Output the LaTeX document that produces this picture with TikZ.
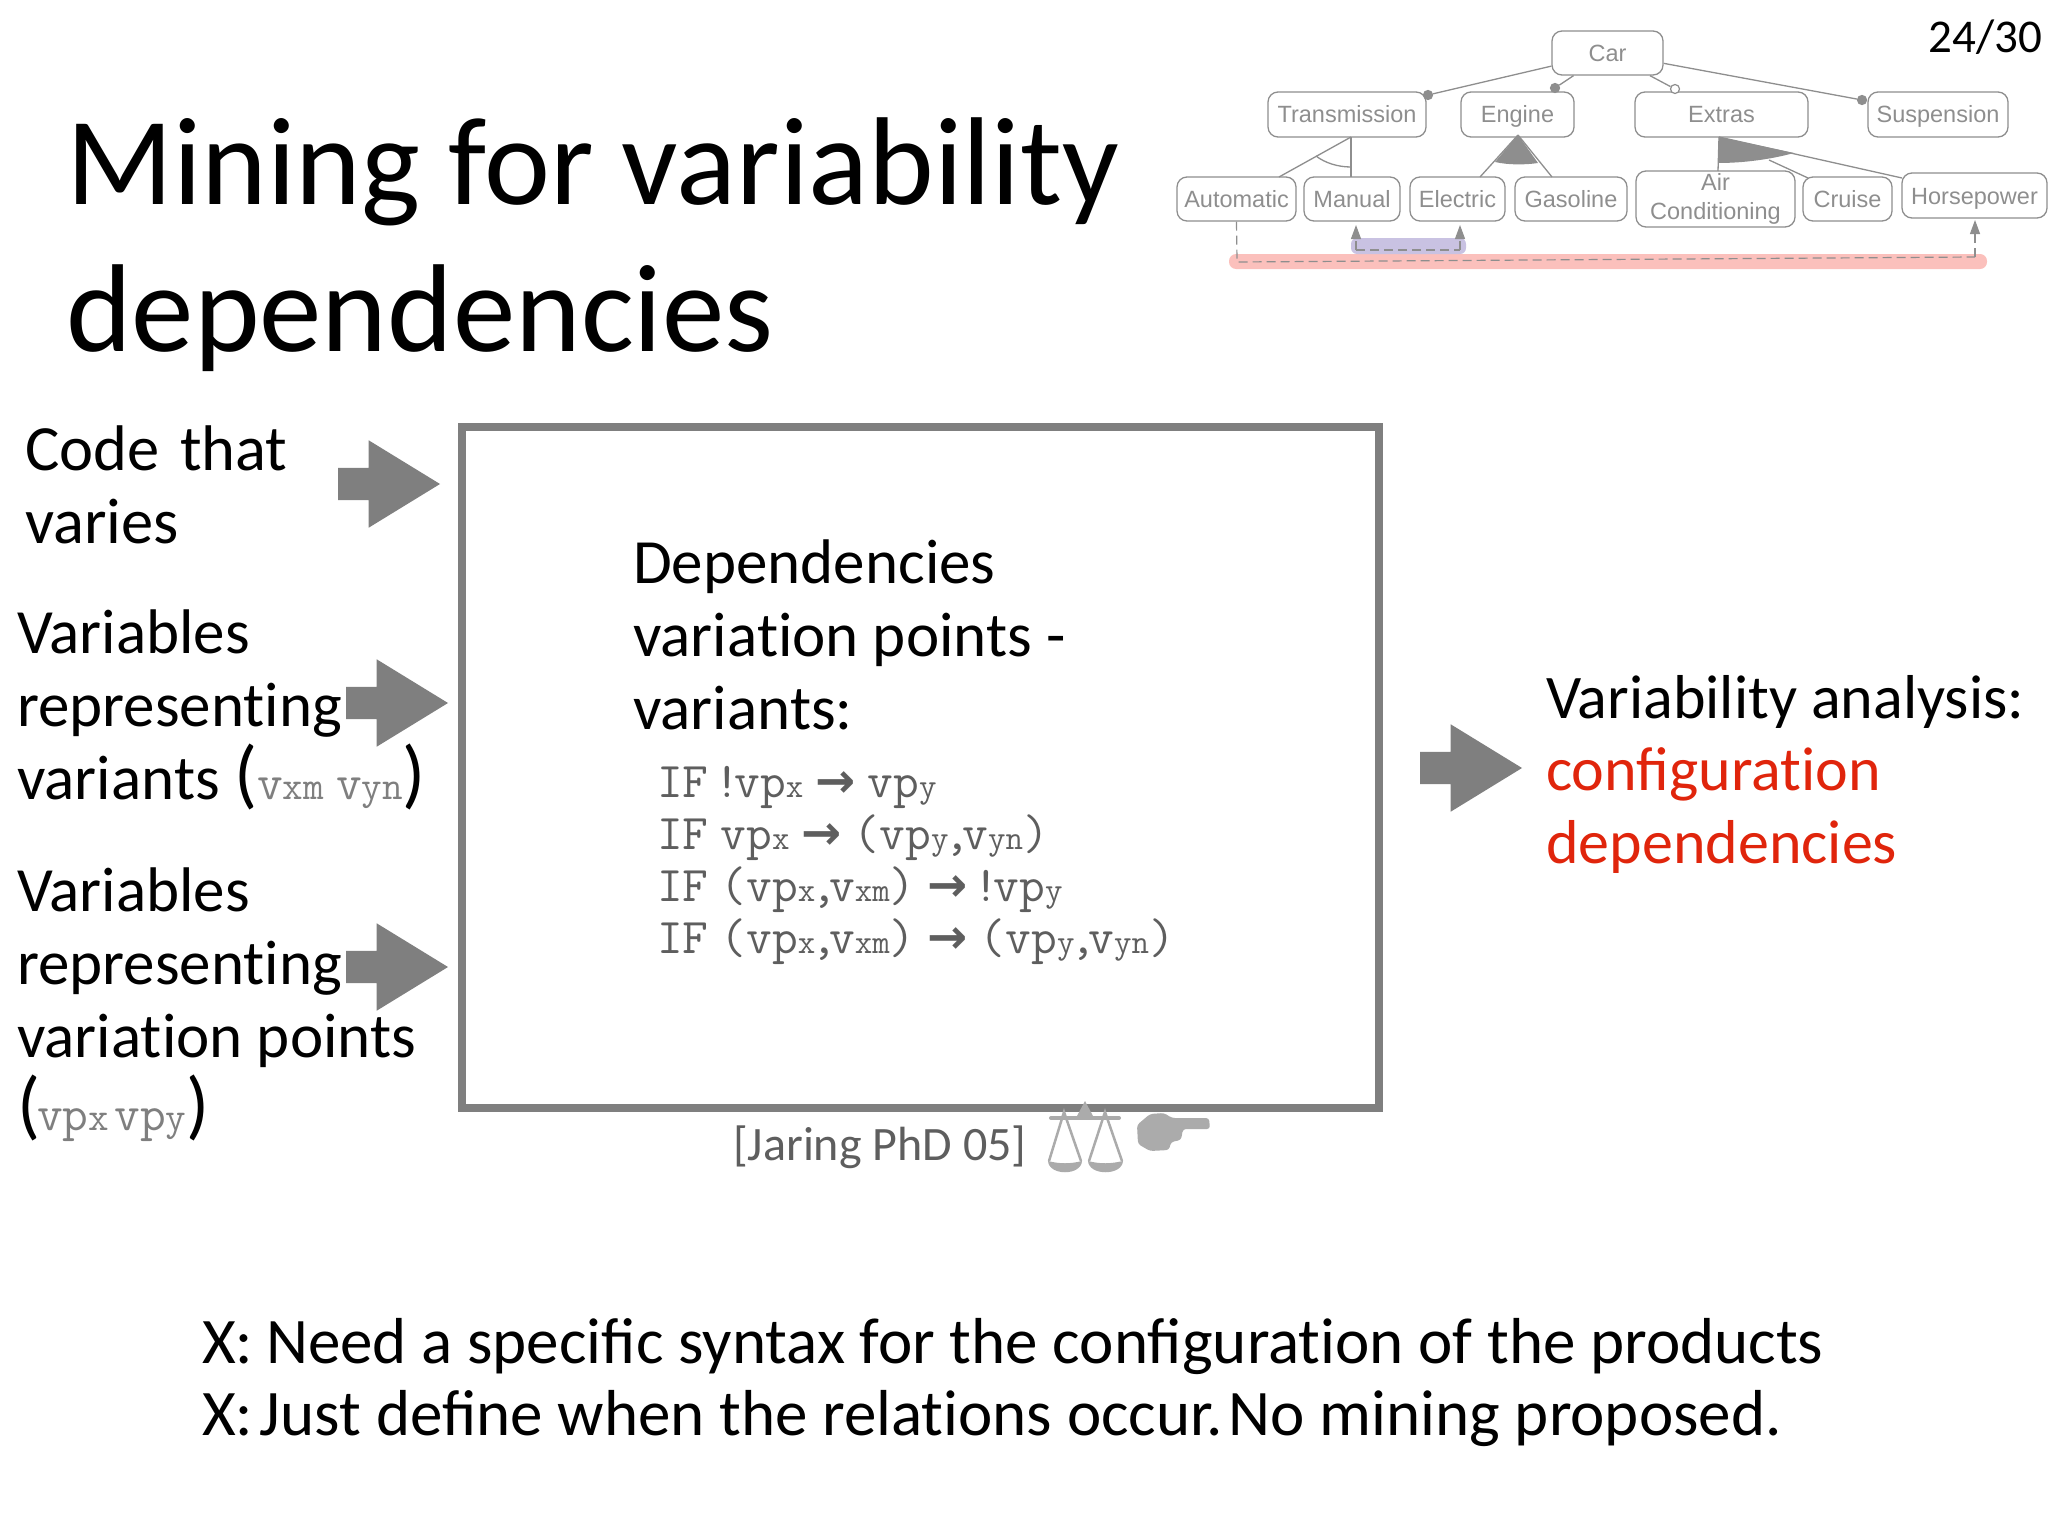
\documentclass[tikz,border=0pt]{standalone}
\usepackage{fontspec}
\usepackage{xcolor}
\usetikzlibrary{shapes.arrows,arrows.meta}
\setmainfont{Carlito}
\newfontfamily\featfont{Liberation Sans}
\newfontfamily\arrowfont{DejaVu Sans}
\definecolor{slidegray}{HTML}{7F7F7F}
\definecolor{codegray}{HTML}{5E5E5E}
\definecolor{featgray}{HTML}{8E8E8E}
\definecolor{iconsgray}{HTML}{ABABAB}
\definecolor{slidered}{HTML}{E0250C}
\definecolor{barred}{HTML}{FBC0BC}
\definecolor{barpurple}{HTML}{C9C2E2}
\newcommand{\lowtext}[1]{{\fontsize{34}{34}\selectfont #1}}
\newcommand{\sidelow}[1]{{\fontsize{40}{40}\selectfont #1}}
\newcommand{\bigparen}[1]{{\fontsize{76}{73}\selectfont #1}}
\newcommand{\boldarrow}{\kern12pt{\arrowfont\bfseries\fontsize{48}{48}\selectfont →}\kern12pt}
\newcommand{\codebang}{\kern-6pt!\kern-6pt}
\newcommand{\codecomma}{\kern-4pt,\kern-8pt}
\newcommand{\wordgap}{\kern12pt}
\tikzset{
  bodytext/.style={anchor=base west,align=left,inner sep=0,font=\fontsize{63}{73}\selectfont},
  titletext/.style={anchor=base west,align=left,inner sep=0,font=\fontsize{125}{147}\selectfont},
  codetext/.style={anchor=base west,align=left,inner sep=0,text=codegray,font=\ttfamily\fontsize{50}{52}\selectfont},
  blockarrow/.style={single arrow,fill=slidegray,anchor=west,inner sep=16pt,outer sep=0,
    minimum height=102pt,single arrow head extend=27.5pt,single arrow tip angle=63},
  featbox/.style={draw=featgray,rounded corners=10pt,line width=1.3pt,text=featgray,align=center,
    inner sep=0,font=\featfont\fontsize{23.5}{29}\selectfont,execute at begin node=\rule[-5pt]{0pt}{27pt}},
  featline/.style={draw=featgray,line width=1.3pt},
  featdot/.style={circle,draw=featgray,line width=1.2pt,inner sep=0,minimum size=9pt},
  crossdash/.style={draw=featgray,line width=1.2pt,dash pattern=on 9pt off 5pt},
  crossarrow/.style={crossdash,-{Triangle[length=14pt,width=10pt,fill=featgray]}},
}
\begin{document}
\begin{tikzpicture}[x=1pt,y=-1pt]
  \useasboundingbox (0,0) rectangle (2048,1536);
  % title and page number
  \node [titletext] (title) at (66,351) {Mining for variability\\dependencies};
  \node [anchor=base east,inner sep=0,font=\fontsize{47}{47}\selectfont] (pagenum) at (2042,53) {24/30};
  % centre box
  \draw [slidegray,line width=8pt] (462,427) rectangle (1379,1108);
  \node [bodytext] (depend) at (633,729) {Dependencies\\variat\kern0pt ion points -\\variants:};
  \node [codetext] (rulea) at (657,797) {IF\wordgap\codebang vp\lowtext{x}\boldarrow vp\lowtext{y}};
  \node [codetext] (ruleb) at (657,849) {IF\wordgap vp\lowtext{x}\boldarrow(vp\lowtext{y}\codecomma v\lowtext{yn})};
  \node [codetext] (rulec) at (657,901) {IF\wordgap(vp\lowtext{x}\codecomma v\lowtext{xm})\boldarrow\codebang vp\lowtext{y}};
  \node [codetext] (ruled) at (657,953) {IF\wordgap(vp\lowtext{x}\codecomma v\lowtext{xm})\boldarrow(vp\lowtext{y}\codecomma v\lowtext{yn})};
  % inputs on the left
  \node [bodytext,font=\fontsize{64.5}{73}\selectfont] (codevaries) at (25,543) {Code\kern6pt\ that\\varies};
  \node [bodytext] (varvariants) at (17,799) {Variables\\represent\kern0pt ing\\variants \bigparen{(}{\color{slidegray}\ttfamily\fontsize{50}{50}\selectfont v\sidelow{xm}\kern12pt v\sidelow{yn}}\bigparen{)}};
  \node [bodytext] (varpoints) at (17,1130) {Variables\\represent\kern0pt ing\\variat\kern0pt ion points\\\bigparen{(}\kern-3pt{\color{slidegray}\ttfamily\fontsize{50}{50}\selectfont vp\sidelow{x}\kern5pt vp\sidelow{y}}\bigparen{)}};
  \node [blockarrow] (arrowcode) at (338,484) {};
  \node [blockarrow] (arrowvariants) at (346,703) {};
  \node [blockarrow] (arrowpoints) at (346,967) {};
  \node [blockarrow] (arrowout) at (1420,768) {};
  % output
  \node [bodytext,font=\fontsize{62}{73}\selectfont] (analysis) at (1546,718) {Variability analysis:};
  \node [bodytext,text=slidered,font=\fontsize{62}{72.5}\selectfont] (configdeps) at (1546,863) {configurat\kern0pt ion\\dependencies};
  % citation with the two icons
  \node [anchor=base west,inner sep=0,text=codegray,font=\fontsize{48}{48}\selectfont] (jaring) at (733,1160) {[Jaring PhD 05]};
  \fill [iconsgray] (1085,1101) -- (1093,1116) -- (1077,1116) -- cycle;
  \draw [iconsgray,line width=4pt,line cap=round] (1051,1118) -- (1119,1118);
  \draw [iconsgray,line width=2.5pt] (1049,1161) -- (1064,1112) -- (1081,1161);
  \draw [iconsgray,line width=2.5pt] (1089,1161) -- (1105,1112) -- (1122,1161);
  \fill [iconsgray] (1048,1161) .. controls (1060,1164) and (1070,1164) .. (1082,1161) .. controls (1081,1176) and (1049,1176) .. (1048,1161) -- cycle;
  \fill [iconsgray] (1088,1161) .. controls (1100,1164) and (1110,1164) .. (1123,1161) .. controls (1122,1176) and (1089,1176) .. (1088,1161) -- cycle;
  \fill [iconsgray,rounded corners=3pt] (1137,1125) -- (1150,1114) -- (1164,1113) -- (1172,1118) -- (1209,1118) -- (1210,1129) -- (1183,1129) -- (1181,1140) -- (1171,1142) -- (1169,1150) -- (1150,1151) -- (1138,1144) -- cycle;
  % feature model
  \fill [barred,rounded corners=7pt] (1229,254) rectangle (1987,269);
  \fill [barpurple,rounded corners=6pt] (1351,238) rectangle (1466,254);
  \node [featbox,minimum width=111pt,minimum height=44pt] (car) at (1607.5,53) {Car};
  \node [featbox,minimum width=158pt,minimum height=45pt] (transmission) at (1347,114.5) {Transmission};
  \node [featbox,minimum width=113pt,minimum height=45pt] (engine) at (1517.5,114.5) {Engine};
  \node [featbox,minimum width=173pt,minimum height=45pt] (extras) at (1721.5,114.5) {Extras};
  \node [featbox,minimum width=140pt,minimum height=45pt] (suspension) at (1938,114.5) {Suspension};
  \node [featbox,minimum width=119pt,minimum height=44pt] (automatic) at (1236.5,199) {Automatic};
  \node [featbox,minimum width=96pt,minimum height=44pt] (manual) at (1352,199) {Manual};
  \node [featbox,minimum width=95pt,minimum height=44pt] (electric) at (1457.5,199) {Electric};
  \node [featbox,minimum width=112pt,minimum height=44pt] (gasoline) at (1571,199) {Gasoline};
  \node [featbox,minimum width=159pt,minimum height=56pt] (aircond) at (1715.5,199) {Air\\Conditioning};
  \node [featbox,minimum width=89pt,minimum height=44pt] (cruise) at (1847.5,199) {Cruise};
  \node [featbox,minimum width=145pt,minimum height=45pt] (horsepower) at (1974.5,195.5) {Horsepower};
  \node [featdot,fill=featgray] (dottrans) at (1428,95) {};
  \node [featdot,fill=featgray] (dotengine) at (1555,88) {};
  \node [featdot,fill=white] (dotextras) at (1675,89) {};
  \node [featdot,fill=featgray] (dotsusp) at (1862,100) {};
  \draw [featline] (car) -- (dottrans);
  \draw [featline] (car) -- (dotengine);
  \draw [featline] (car) -- (dotextras);
  \draw [featline] (car) -- (dotsusp);
  \coordinate (transapex) at (1351,137);
  \coordinate (engineapex) at (1518,135);
  \coordinate (extrasapex) at (1719,137);
  \draw [featline] (transapex) -- (1279,177);
  \draw [featline] (transapex) -- (1351,177);
  \draw [featline] (1316,156) .. controls (1325,163) and (1338,167) .. (1351,167);
  \draw [featline] (engineapex) -- (1480,177);
  \draw [featline] (engineapex) -- (1552,177);
  \fill [featgray] (engineapex) -- (1495,162) .. controls (1508,165) and (1525,165) .. (1538,163) -- cycle;
  \draw [featline] (extrasapex) -- (1718,171);
  \draw [featline] (1769,160) -- (1808,178);
  \draw [featline] (extrasapex) -- (1902,178);
  \fill [featgray] (extrasapex) -- (1718,163) .. controls (1745,163) and (1772,159) .. (1794,153) -- cycle;
  % cross tree constraints
  \coordinate (reqleft) at (1237,262);
  \coordinate (reqright) at (1975,257);
  \coordinate (purpleleft) at (1356,250);
  \coordinate (purpleright) at (1460,250);
  \draw [crossdash] (automatic.south) -- (reqleft) -- (reqright);
  \draw [crossarrow] (reqright) -- (1975,220);
  \draw [crossdash] (purpleleft) -- (purpleright);
  \draw [crossarrow] (purpleleft) -- (1356,225);
  \draw [crossarrow] (purpleright) -- (1460,225);
  % remarks
  \node [bodytext,font=\fontsize{65}{72}\selectfont] (remarks) at (202,1435) {X:\kern-2pt\ Need a specific syntax for the configurat\kern0pt ion of the products\\X:\kern-8pt\ Just define when the relat\kern0pt ions occur.\kern-9pt\ No mining proposed.};
\end{tikzpicture}
\end{document}
